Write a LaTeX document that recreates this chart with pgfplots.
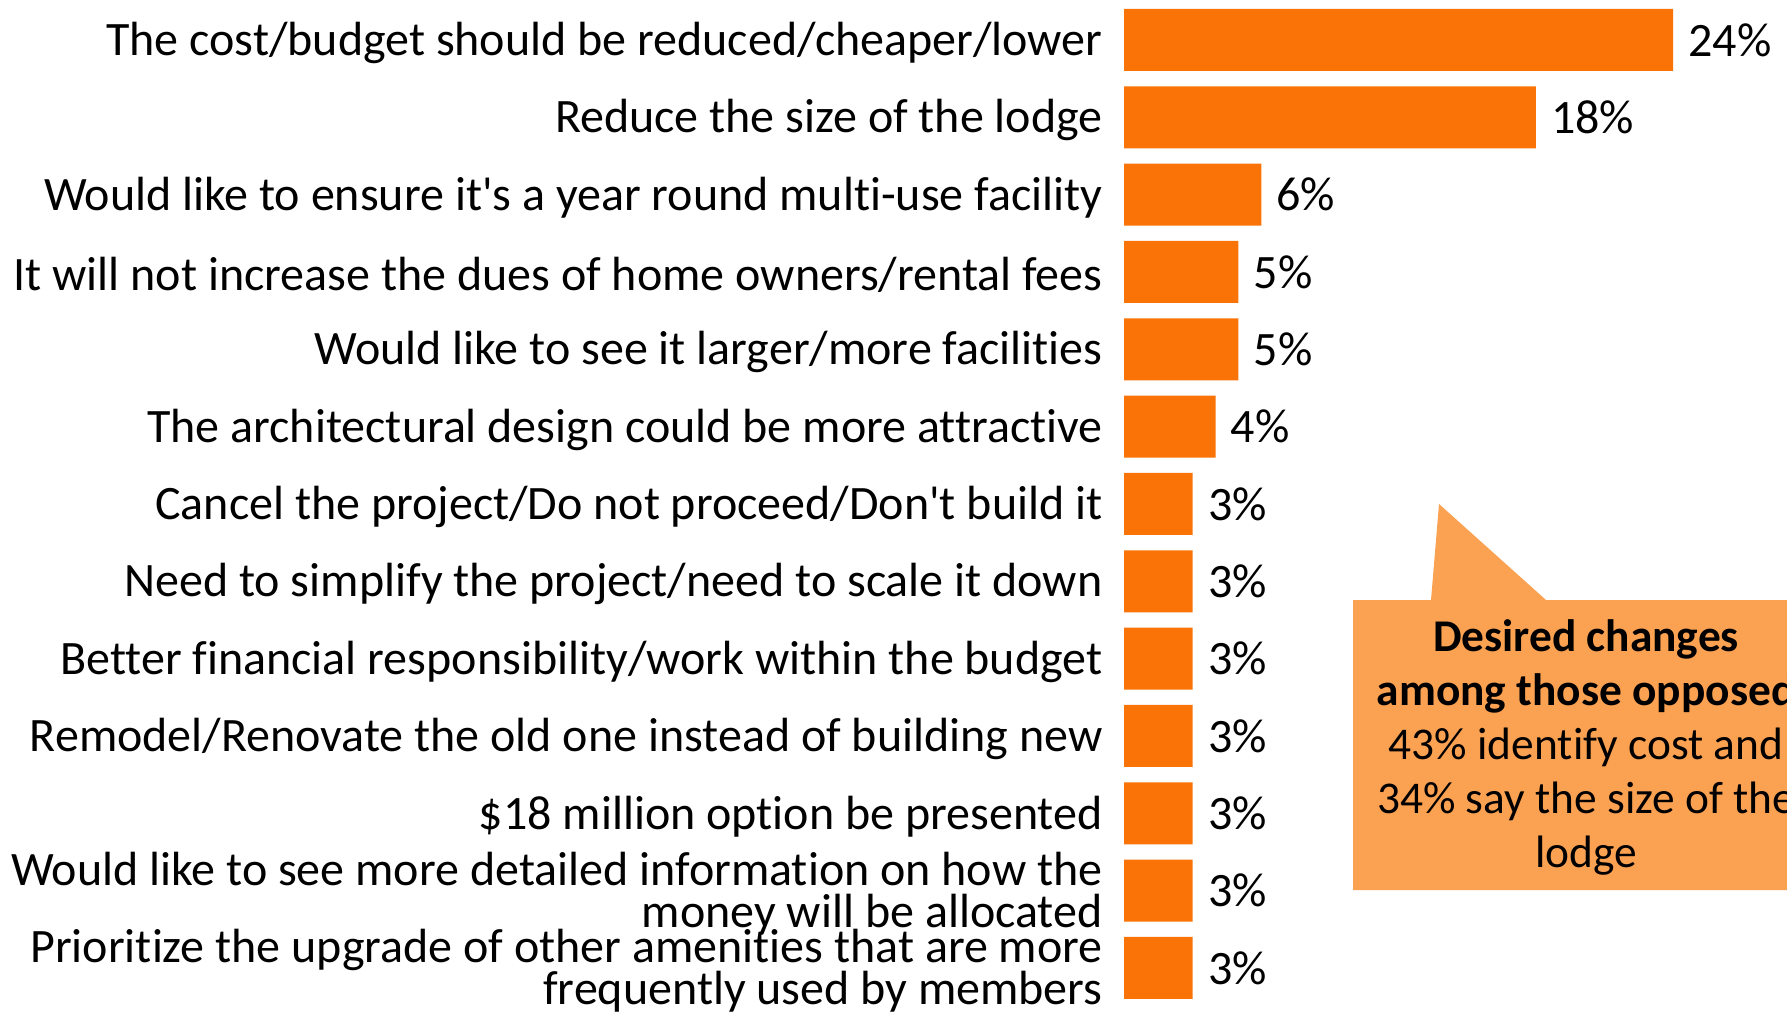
\documentclass[border=0pt]{standalone}
\usepackage{pgfplots}
\pgfplotsset{compat=1.18}
\usepackage{fontspec}
\setmainfont{Carlito}[Ligatures={NoCommon}]
\definecolor{barorange}{HTML}{F97306}
\definecolor{callout}{HTML}{FBA152}
\newcommand{\lblfont}{\fontsize{24}{21}\selectfont}
\begin{document}
\begin{tikzpicture}
\useasboundingbox (0,0) rectangle (893.5pt,509.5pt);
\clip (0,0) rectangle (893.5pt,509.5pt);
\begin{scope}[x=0.5pt,y=0.5pt]
\fill[callout] (1353,419) -- (1431,419) -- (1439,515) -- (1546,419) -- (1800,419) -- (1800,129) -- (1353,129) -- cycle;
\node[align=center, font=\fontsize{22.7}{27}\selectfont, inner sep=0pt] at (1586,272) {\textbf{Desired changes}\\\textbf{among those opposed}\\43\% identify cost and\\34\% say the size of the\\lodge};
\end{scope}
\begin{axis}[
  at={(562pt,6.2pt)}, anchor=south west,
  xbar, y dir=reverse,
  scale only axis, width=274.5pt, height=502.65pt,
  xmin=0, xmax=24, ymin=-0.5, ymax=12.5,
  bar width=31pt,
  axis line style={draw=none},
  xtick=\empty,
  ytick={0,...,12},
  major tick length=0pt,
  yticklabels={
    {The cost/budget should be reduced/cheaper/lower},
    {Reduce the size of the lodge},
    {Would like to ensure it\textquotesingle s a year round multi-use facility},
    {It will not increase the dues of home owners/rental fees},
    {Would like to see it larger/more facilities},
    {The architectural design could be more attractive},
    {Cancel the project/Do not proceed/Don\textquotesingle t build it},
    {Need to simplify the project/need to scale it down},
    {Better financial responsibility/work within the budget},
    {Remodel/Renovate the old one instead of building new},
    {\$18 million option be presented},
    {Would like to see more detailed information on how the\\money will be allocated},
    {Prioritize the upgrade of other amenities that are more\\frequently used by members}
  },
  yticklabel style={align=right, font=\lblfont, inner sep=0pt, xshift=-10.5pt, yshift=-1.5pt},
  /pgf/number format/assume math mode=true,
  nodes near coords={\pgfmathprintnumber{\pgfplotspointmeta}\%},
  every node near coord/.append style={font=\lblfont, inner sep=0pt, anchor=west, xshift=7.5pt},
  clip=false,
]
\addplot[fill=barorange, draw=none] coordinates {
  (24,0) (18,1) (6,2) (5,3) (5,4) (4,5) (3,6) (3,7) (3,8) (3,9) (3,10) (3,11) (3,12)
};
\end{axis}
\end{tikzpicture}
\end{document}
